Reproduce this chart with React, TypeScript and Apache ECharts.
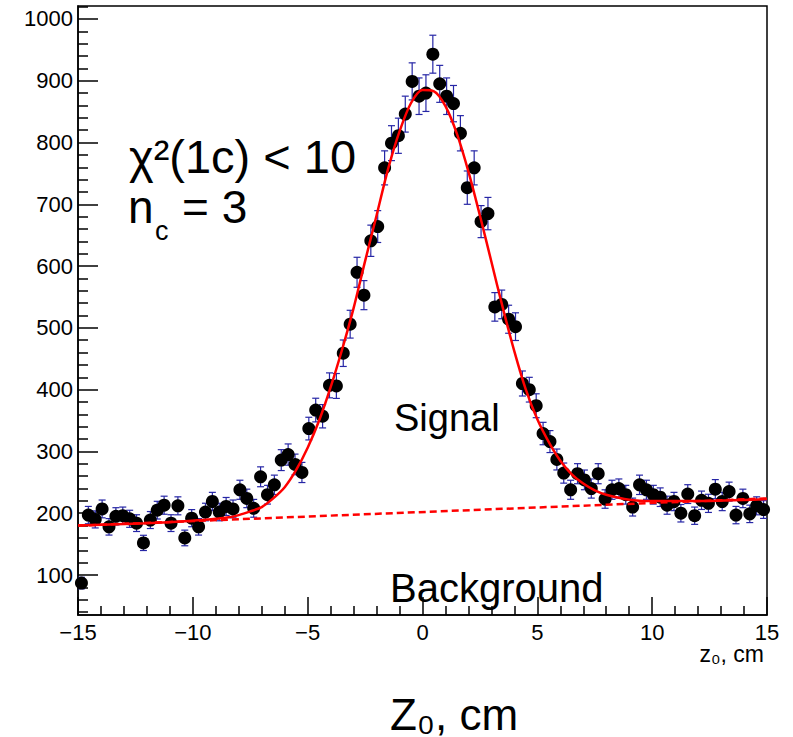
import React, { useEffect, useRef } from 'react';
import * as echarts from 'echarts';

// Histogram binning: 100 bins of 0.3 cm from -15 to 15
const BIN_START = -15;
const BIN_WIDTH = 0.3;

// Entries per bin
const counts = [
  87, 197, 190, 207, 178, 195, 196, 191, 184, 152,
  189, 205, 213, 184, 212, 160, 192, 178, 202, 219,
  202, 211, 207, 238, 224, 208, 259, 230, 246, 286,
  295, 279, 266, 337, 367, 357, 407, 406, 459, 506,
  590, 553, 641, 664, 759, 799, 811, 846, 899, 875,
  880, 943, 895, 875, 863, 815, 727, 759, 672, 685,
  534, 538, 514, 502, 410, 400, 374, 329, 316, 287,
  265, 238, 264, 254, 240, 264, 223, 238, 240, 230,
  210, 246, 238, 230, 226, 213, 219, 200, 231, 196,
  221, 216, 239, 219, 235, 197, 224, 199, 212, 206,
];

// Fit curve (signal + background)
const fitX = [-15, -12, -10, -9, -8.5, -8, -7.5, -7, -6.5, -6, -5.5, -5, -4.5, -4, -3.5, -3, -2.5, -2, -1.5, -1, -0.5, 0, 0.5, 1, 1.5, 2, 2.5, 3, 3.5, 4, 4.5, 5, 5.5, 6, 6.5, 7, 7.5, 8, 9, 10, 12, 15];
const fitY = [180, 184, 188, 191, 193, 197, 203, 210, 224, 242, 270, 306, 350, 404, 465, 532, 608, 682, 757, 818, 864, 885, 883, 859, 814, 753, 682, 607, 532, 462, 400, 352, 315, 285, 263, 248, 237, 230, 222, 220, 220, 223];

// Background (linear)
const bgX = [-15, 15];
const bgY = [180, 224];

// Axis ticks
const xMin = -15;
const xMax = 15;
const yMin = 35.3;
const yMax = 1021;
const yMajorTicks = [100, 200, 300, 400, 500, 600, 700, 800, 900, 1000];
const yMinorTicks: number[] = [];
for (let v = 40; v <= 1020; v += 20) {
  if (v % 100 !== 0) yMinorTicks.push(v);
}

const FONT = "'Liberation Sans', Arial, Helvetica, sans-serif";
const ERR_COLOR = '#2626a6';

export default function App() {
  const ref = useRef<HTMLDivElement>(null);

  useEffect(() => {
    document.body.style.margin = '0';
    if (!ref.current) return;
    const chart = echarts.init(ref.current, undefined, { renderer: 'svg' });

    const points = counts.map((c, i) => [BIN_START + BIN_WIDTH * (i + 0.5), c]);
    const fitData = fitX.map((x, i) => [x, fitY[i]]);
    const bgData = bgX.map((x, i) => [x, bgY[i]]);

    const tickLine = { color: '#000', width: 1.5 };

    const option: any = {
      animation: false,
      textStyle: { fontFamily: FONT },
      grid: {
        left: 78,
        right: 26,
        top: 6,
        bottom: 122,
        show: true,
        borderColor: '#000',
        borderWidth: 1.5,
        containLabel: false,
      },
      xAxis: {
        type: 'value',
        min: xMin,
        max: xMax,
        interval: 5,
        axisLine: { show: true, onZero: false, lineStyle: tickLine },
        axisTick: { show: true, inside: true, length: 18, lineStyle: tickLine },
        minorTick: { show: true, splitNumber: 5, length: 9, lineStyle: tickLine },
        axisLabel: {
          color: '#000',
          fontSize: 22,
          fontFamily: FONT,
          margin: 6,
          showMinLabel: true,
          showMaxLabel: true,
          formatter: (v: number) => String(v).replace('-', '\u2212'),
        },
        splitLine: { show: false },
        minorSplitLine: { show: false },
      },
      yAxis: [
        {
          type: 'value',
          min: yMin,
          max: yMax,
          position: 'left',
          axisLine: { show: true, onZero: false, lineStyle: tickLine },
          axisTick: { show: true, inside: true, length: 20, lineStyle: tickLine, customValues: yMajorTicks },
          axisLabel: {
            color: '#000',
            fontSize: 22,
            fontFamily: FONT,
            margin: 5,
            customValues: yMajorTicks,
            formatter: (v: number) => String(v),
          },
          splitLine: { show: false },
        },
        {
          type: 'value',
          min: yMin,
          max: yMax,
          position: 'left',
          axisLine: { show: false, onZero: false },
          axisTick: { show: true, inside: true, length: 10, lineStyle: tickLine, customValues: yMinorTicks },
          axisLabel: { show: false },
          splitLine: { show: false },
        },
      ],
      series: [
        {
          type: 'custom',
          name: 'errors',
          xAxisIndex: 0,
          yAxisIndex: 0,
          z: 2,
          silent: true,
          data: points,
          encode: { x: 0, y: 1 },
          renderItem: (params: any, api: any) => {
            const x = api.value(0);
            const y = api.value(1);
            const e = Math.sqrt(y);
            const top = api.coord([x, y + e]);
            const bot = api.coord([x, y - e]);
            const hw = 3.5;
            const st = { stroke: ERR_COLOR, lineWidth: 1.2 };
            return {
              type: 'group',
              children: [
                { type: 'line', shape: { x1: top[0], y1: top[1], x2: bot[0], y2: bot[1] }, style: st },
                { type: 'line', shape: { x1: top[0] - hw, y1: top[1], x2: top[0] + hw, y2: top[1] }, style: st },
                { type: 'line', shape: { x1: bot[0] - hw, y1: bot[1], x2: bot[0] + hw, y2: bot[1] }, style: st },
              ],
            };
          },
        },
        {
          type: 'scatter',
          name: 'data',
          xAxisIndex: 0,
          yAxisIndex: 0,
          z: 3,
          silent: true,
          symbol: 'circle',
          symbolSize: 13,
          itemStyle: { color: '#000', opacity: 1 },
          data: points,
        },
        {
          type: 'line',
          name: 'background',
          xAxisIndex: 0,
          yAxisIndex: 0,
          z: 4,
          silent: true,
          showSymbol: false,
          lineStyle: { color: '#ff0000', width: 2.5, type: [7, 4] },
          data: bgData,
        },
        {
          type: 'line',
          name: 'fit',
          xAxisIndex: 0,
          yAxisIndex: 0,
          z: 5,
          silent: true,
          showSymbol: false,
          smooth: 0.3,
          lineStyle: { color: '#ff0000', width: 2.5 },
          data: fitData,
        },
      ],
      graphic: [
        {
          type: 'text',
          x: 129,
          y: 156,
          z: 10,
          style: { text: '\u03c7\u00b2(1c) < 10', fill: '#000', font: `47px ${FONT}`, textAlign: 'left', textVerticalAlign: 'middle' },
        },
        {
          type: 'text',
          x: 128,
          y: 207,
          z: 10,
          style: { text: 'n', fill: '#000', font: `46px ${FONT}`, textAlign: 'left', textVerticalAlign: 'middle' },
        },
        {
          type: 'text',
          x: 155,
          y: 231,
          z: 10,
          style: { text: 'c', fill: '#000', font: `27px ${FONT}`, textAlign: 'left', textVerticalAlign: 'middle' },
        },
        {
          type: 'text',
          x: 182,
          y: 207,
          z: 10,
          style: { text: '= 3', fill: '#000', font: `46px ${FONT}`, textAlign: 'left', textVerticalAlign: 'middle' },
        },
        {
          type: 'text',
          x: 394,
          y: 418,
          z: 10,
          style: { text: 'Signal', fill: '#000', font: `38px ${FONT}`, textAlign: 'left', textVerticalAlign: 'middle' },
        },
        {
          type: 'text',
          x: 390,
          y: 588,
          z: 10,
          style: { text: 'Background', fill: '#000', font: `40px ${FONT}`, textAlign: 'left', textVerticalAlign: 'middle' },
        },
        {
          type: 'text',
          x: 764,
          y: 654,
          z: 10,
          style: { text: 'z\u2080, cm', fill: '#000', font: `23px ${FONT}`, textAlign: 'right', textVerticalAlign: 'middle' },
        },
        {
          type: 'text',
          x: 454,
          y: 714,
          z: 10,
          style: { text: 'Z\u2080, cm', fill: '#000', font: `44px ${FONT}`, textAlign: 'center', textVerticalAlign: 'middle' },
        },
      ],
    };

    chart.setOption(option);
    return () => {
      chart.dispose();
    };
  }, []);

  return <div ref={ref} style={{ width: 793, height: 737 }} />;
}
